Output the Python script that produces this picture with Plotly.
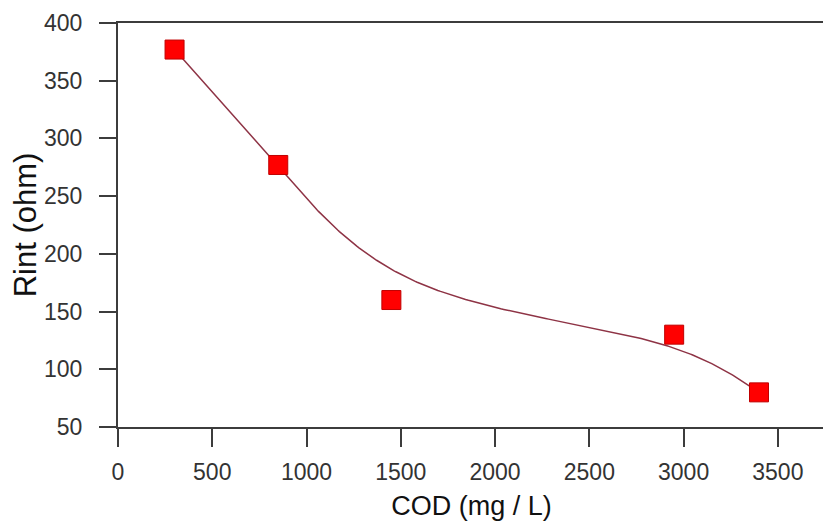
import numpy as np
import plotly.graph_objects as go

# ---- data ----
cod = [300, 850, 1450, 2950, 3400]          # COD (mg / L)
rint = [377, 277, 160, 130, 80]             # Rint (ohm)
x_ticks = [0, 500, 1000, 1500, 2000, 2500, 3000, 3500]
y_ticks = [50, 100, 150, 200, 250, 300, 350, 400]


def bspline_curve(xs, ys, per_seg=80):
    """Uniform cubic B-spline with the data as control points; phantom end
    points (2*P0-P1, 2*Pn-Pn-1) make it pass through the first and last points."""
    P = np.column_stack([xs, ys]).astype(float)
    Q = np.vstack([2 * P[0] - P[1], P, 2 * P[-1] - P[-2]])
    u = np.linspace(0, 1, per_seg)
    b0 = (1 - u) ** 3 / 6
    b1 = (3 * u ** 3 - 6 * u ** 2 + 4) / 6
    b2 = (-3 * u ** 3 + 3 * u ** 2 + 3 * u + 1) / 6
    b3 = u ** 3 / 6
    segs = []
    for i in range(len(Q) - 3):
        seg = (np.outer(b0, Q[i]) + np.outer(b1, Q[i + 1])
               + np.outer(b2, Q[i + 2]) + np.outer(b3, Q[i + 3]))
        segs.append(seg if i == 0 else seg[1:])
    C = np.vstack(segs)
    return C[:, 0], C[:, 1]


cx, cy = bspline_curve(cod, rint)

axis_color = "#3c3c3c"
font_family = "Liberation Sans, Arial, sans-serif"

fig = go.Figure()
fig.add_trace(go.Scatter(
    x=cx, y=cy, mode="lines",
    line=dict(color="#8e3345", width=1.5),
    hoverinfo="skip", showlegend=False,
))
fig.add_trace(go.Scatter(
    x=cod, y=rint, mode="markers",
    marker=dict(symbol="square", size=19, color="#ff0000",
                line=dict(color="#c00000", width=1)),
    showlegend=False,
))

# the page body keeps its default 8px margin, so the figure is 8px smaller
fig.update_layout(
    width=823, height=517,
    margin=dict(l=110, r=6, t=15, b=98),
    paper_bgcolor="white", plot_bgcolor="white",
    font=dict(family=font_family, color="#333333"),
    xaxis=dict(
        range=[0, 3750], tickvals=x_ticks, automargin=False,
        ticks="outside", ticklen=18, tickwidth=2, tickcolor=axis_color,
        showline=True, linewidth=2, linecolor=axis_color, mirror=True,
        showgrid=False, zeroline=False,
        tickfont=dict(size=23, color="#333333"),
        ticklabelstandoff=5,
        title=dict(text="COD (mg / L)", font=dict(size=27, color="#111111"), standoff=13),
    ),
    yaxis=dict(
        range=[50, 400], tickvals=y_ticks, automargin=False,
        ticks="outside", ticklen=17, tickwidth=2, tickcolor=axis_color,
        showline=True, linewidth=2, linecolor=axis_color, mirror=True,
        showgrid=False, zeroline=False,
        tickfont=dict(size=23, color="#333333"),
        ticklabelstandoff=12,
        title=dict(text="Rint (ohm)", font=dict(size=31, color="#111111"), standoff=1),
    ),
)

fig.write_html("out.html")
